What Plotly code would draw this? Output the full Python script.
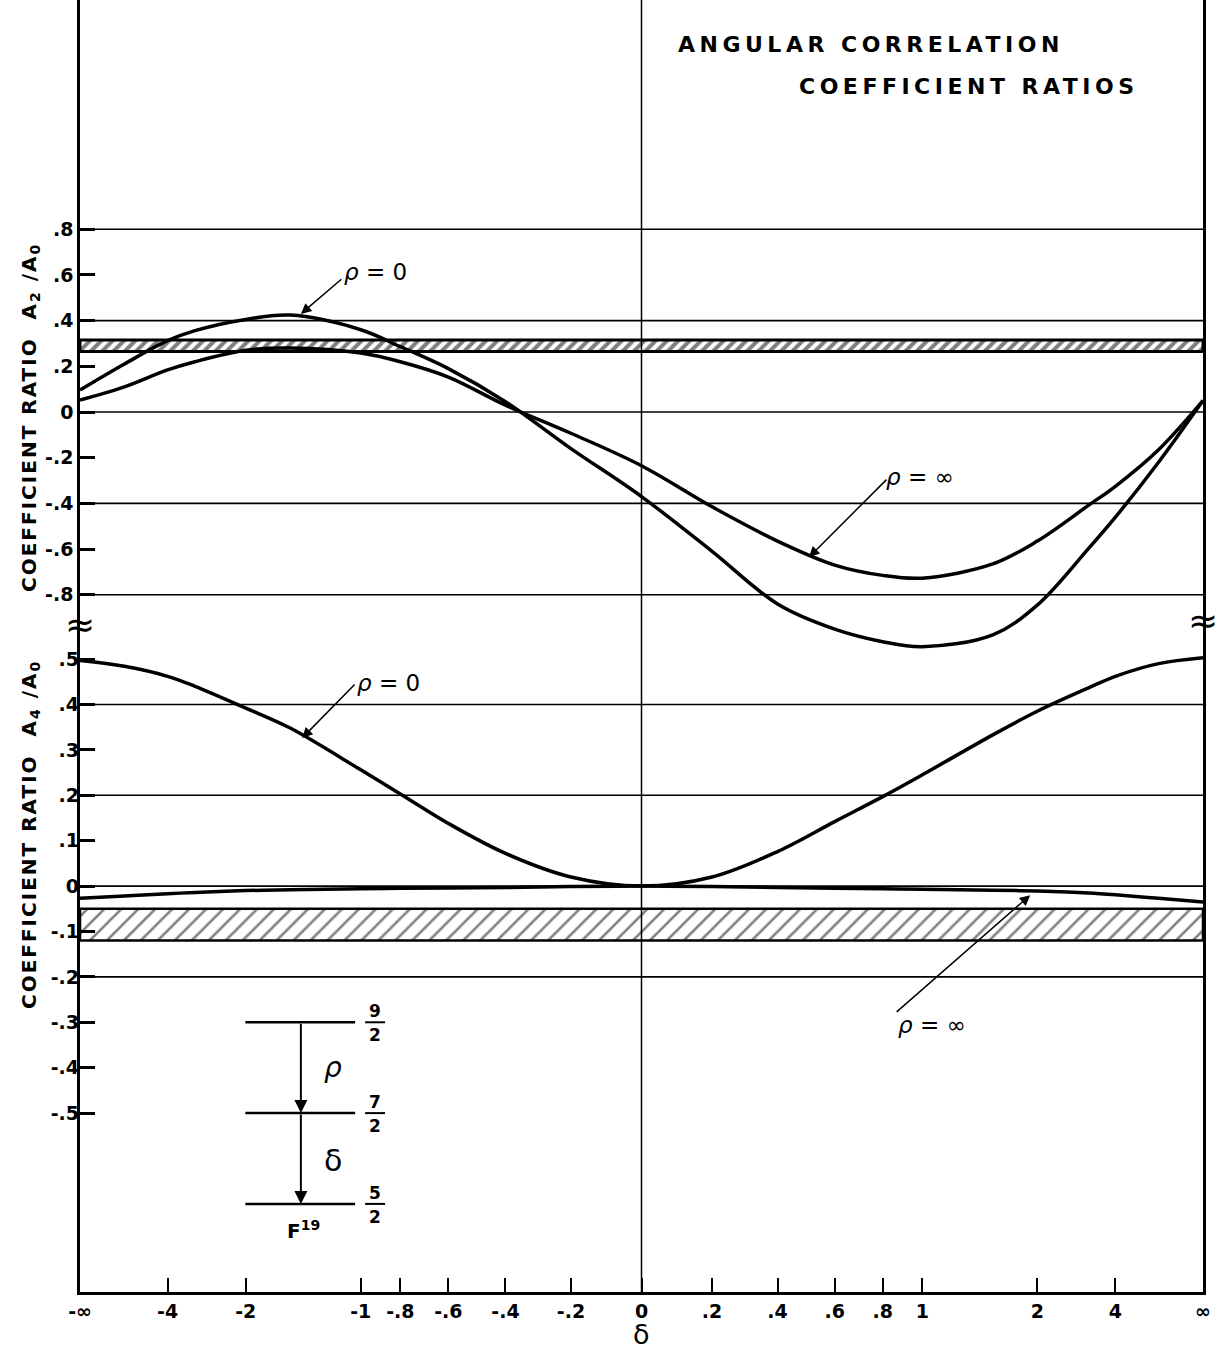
import numpy as np
import plotly.graph_objects as go

# Mixing ratio delta at the sampled points (x axis is arctan(delta))
delta = [-np.inf, -8, -4, -3, -2, -1.5, -1, -0.8, -0.6, -0.4, -0.2, 0,
         0.2, 0.4, 0.6, 0.8, 1, 1.5, 2, 3, 4, 8, np.inf]

# A2/A0 coefficient ratio
a2_rho0 = [0.096, 0.21, 0.312, 0.356, 0.405, 0.424, 0.36, 0.286, 0.19, 0.045, -0.16,
           -0.37, -0.61, -0.84, -0.95, -1.005, -1.027, -0.975, -0.845, -0.60,
           -0.46, -0.22, 0.05]
a2_rhoinf = [0.052, 0.11, 0.184, 0.22, 0.27, 0.28, 0.258, 0.22, 0.153, 0.03, -0.093,
             -0.235, -0.415, -0.565, -0.67, -0.715, -0.727, -0.665, -0.565, -0.41,
             -0.325, -0.165, 0.05]

# A4/A0 coefficient ratio
a4_rho0 = [0.497, 0.484, 0.462, 0.44, 0.392, 0.348, 0.256, 0.203, 0.138, 0.072, 0.02,
           0.0, 0.02, 0.076, 0.142, 0.197, 0.245, 0.333, 0.385, 0.436, 0.462, 0.49, 0.503]
a4_rhoinf = [-0.027, -0.022, -0.017, -0.014, -0.01, -0.008, -0.006, -0.005, -0.004,
             -0.003, -0.001, 0.0, -0.001, -0.003, -0.005, -0.006, -0.007, -0.009,
             -0.011, -0.015, -0.019, -0.027, -0.035]

# Measured bands
a2_band = [0.265, 0.315]
a4_band = [-0.12, -0.05]

# Axis ticks
x_tick_delta = [-np.inf, -4, -2, -1, -0.8, -0.6, -0.4, -0.2, 0, 0.2, 0.4, 0.6, 0.8, 1, 2, 4, np.inf]
x_tick_text = ["-∞", "-4", "-2", "-1", "-.8", "-.6", "-.4", "-.2", "0", ".2", ".4", ".6", ".8",
               "1", "2", "4", "∞"]
a2_ticks = [0.8, 0.6, 0.4, 0.2, 0, -0.2, -0.4, -0.6, -0.8]
a2_tick_text = [".8", ".6", ".4", ".2", "0", "-.2", "-.4", "-.6", "-.8"]
a4_ticks = [0.5, 0.4, 0.3, 0.2, 0.1, 0, -0.1, -0.2, -0.3, -0.4, -0.5]
a4_tick_text = [".5", ".4", ".3", ".2", ".1", "0", "-.1", "-.2", "-.3", "-.4", "-.5"]
a2_grid = [0.8, 0.4, 0, -0.4, -0.8]
a4_grid = [0.4, 0.2, 0, -0.2]


def theta(d):
    return np.degrees(np.arctan(np.asarray(d, dtype=float)))


def spaced(text, px):
    return f'<span style="letter-spacing:{px}px">{text}</span>'


FONT = "DejaVu Sans"
X = theta(delta)

fig = go.Figure()

# hatched bands
band_specs = [(a2_band, "y", 3, 8, 0.5), (a4_band, "y2", 2.5, 12, 0.22)]
for band, ax, lw, psize, solid in band_specs:
    lo, hi = band
    fig.add_trace(go.Scatter(
        x=[-90, 90, 90, -90, -90], y=[lo, lo, hi, hi, lo], yaxis=ax,
        mode="lines", fill="toself", fillcolor="white",
        fillpattern=dict(shape="/", fgcolor="black", bgcolor="white",
                         size=psize, solidity=solid),
        line=dict(color="black", width=lw), hoverinfo="skip"))

for ys, ax in [(a2_rho0, "y"), (a2_rhoinf, "y"), (a4_rho0, "y2"), (a4_rhoinf, "y2")]:
    fig.add_trace(go.Scatter(x=X, y=ys, yaxis=ax, mode="lines",
                             line=dict(color="black", width=3.5, shape="spline", smoothing=1.0),
                             hoverinfo="skip"))

shapes = []
for g in a2_grid:
    shapes.append(dict(type="line", xref="paper", x0=0, x1=1, yref="y", y0=g, y1=g,
                       line=dict(color="black", width=1.6)))
for g in a4_grid:
    shapes.append(dict(type="line", xref="paper", x0=0, x1=1, yref="y2", y0=g, y1=g,
                       line=dict(color="black", width=1.6)))
shapes.append(dict(type="line", xref="x", x0=0, x1=0, yref="paper", y0=0, y1=1,
                   line=dict(color="black", width=1.5)))

# level scheme of F19
lvl_x0, lvl_x1, lvl_arrow = -63.5, -45.9, -54.6
levels = [-0.3, -0.5, -0.7]
for lv in levels:
    shapes.append(dict(type="line", xref="x", x0=lvl_x0, x1=lvl_x1, yref="y2", y0=lv, y1=lv,
                       line=dict(color="black", width=2.5)))
    shapes.append(dict(type="line", xref="x", x0=-44.3, x1=-41.1, yref="y2", y0=lv, y1=lv,
                       line=dict(color="black", width=2)))

ann = []
for top, bot in [(levels[0], levels[1]), (levels[1], levels[2])]:
    ann.append(dict(xref="x", yref="y2", x=lvl_arrow, y=bot, axref="x", ayref="y2",
                    ax=lvl_arrow, ay=top, text="", showarrow=True, arrowhead=2,
                    arrowsize=1.3, arrowwidth=2, arrowcolor="black"))
for lv, (num, den) in zip(levels, [("9", "2"), ("7", "2"), ("5", "2")]):
    ann.append(dict(xref="x", yref="y2", x=-42.7, y=lv + 0.025, text=num, showarrow=False,
                    font=dict(family=FONT, size=17, weight="bold", color="black")))
    ann.append(dict(xref="x", yref="y2", x=-42.7, y=lv - 0.029, text=den, showarrow=False,
                    font=dict(family=FONT, size=17, weight="bold", color="black")))
ann.append(dict(xref="x", yref="y2", x=-49.4, y=-0.40, text="<i>ρ</i>", showarrow=False,
                font=dict(family=FONT, size=28, color="black")))
ann.append(dict(xref="x", yref="y2", x=-49.4, y=-0.605, text="δ", showarrow=False,
                font=dict(family=FONT, size=30, color="black")))
ann.append(dict(xref="x", yref="y2", x=-54.2, y=-0.758, text="F<sup>19</sup>", showarrow=False,
                font=dict(family=FONT, size=20, weight="bold", color="black")))

# curve labels with pointer arrows
labels = [
    ("y", -54.6, 0.429, 42, -36, -42.7, 0.613, "0"),
    ("y", 26.85, -0.635, 79, -79, 44.6, -0.284, "∞"),
    ("y2", -54.4, 0.326, 54, -55, -40.6, 0.447, "0"),
    ("y2", 62.3, -0.02, -135, 118, 46.6, -0.306, "∞"),
]
for yr, hx, hy, dx, dy, tx, ty, val in labels:
    ann.append(dict(xref="x", yref=yr, x=hx, y=hy, ax=dx, ay=dy, text="", showarrow=True,
                    arrowhead=2, arrowsize=1.4, arrowwidth=1.5, arrowcolor="black"))
    ann.append(dict(xref="x", yref=yr, x=tx, y=ty, text=f"<i>ρ</i> = {val}", showarrow=False,
                    font=dict(family=FONT, size=23, color="black")))

# titles
ann.append(dict(xref="paper", yref="paper", x=0.5307, y=0.9652, xanchor="left", yanchor="middle",
                text=spaced("ANGULAR CORRELATION", 4.5), showarrow=False,
                font=dict(family=FONT, size=22, weight="bold", color="black")))
ann.append(dict(xref="paper", yref="paper", x=0.6385, y=0.9327, xanchor="left", yanchor="middle",
                text=spaced("COEFFICIENT RATIOS", 4.5), showarrow=False,
                font=dict(family=FONT, size=22, weight="bold", color="black")))
ann.append(dict(xref="paper", yref="paper", x=-0.0445, y=0.6765, textangle=-90,
                xanchor="center", yanchor="middle",
                text=spaced("COEFFICIENT RATIO  A<sub>2</sub> /A<sub>0</sub>", 2),
                showarrow=False,
                font=dict(family=FONT, size=20, weight="bold", color="black")))
ann.append(dict(xref="paper", yref="paper", x=-0.0445, y=0.3537, textangle=-90,
                xanchor="center", yanchor="middle",
                text=spaced("COEFFICIENT RATIO  A<sub>4</sub> /A<sub>0</sub>", 2),
                showarrow=False,
                font=dict(family=FONT, size=20, weight="bold", color="black")))
ann.append(dict(xref="x", yref="paper", x=0, y=-0.033, yanchor="middle", text="δ",
                showarrow=False, font=dict(family=FONT, size=27, color="black")))
# axis break marks
for bx, by in [(0, 0.5163), (1, 0.5201)]:
    ann.append(dict(xref="paper", yref="paper", x=bx, y=by, xanchor="center", yanchor="middle",
                    text="≈", showarrow=False,
                    font=dict(family=FONT, size=36, color="black")))

tickfont = dict(family=FONT, size=19, weight="bold", color="black")
fig.update_layout(
    width=1224, height=1354, margin=dict(l=80, r=21, t=0, b=62),
    plot_bgcolor="white", paper_bgcolor="white", showlegend=False,
    shapes=shapes, annotations=ann,
    xaxis=dict(range=[-90, 90], tickvals=theta(x_tick_delta), ticktext=x_tick_text,
               ticks="inside", ticklen=14, tickwidth=2, tickcolor="black",
               showgrid=False, zeroline=False, showline=True, linewidth=2.5,
               linecolor="black", tickfont=tickfont),
    yaxis=dict(range=[-3.851, 1.803], tickvals=a2_ticks, ticktext=a2_tick_text,
               ticks="inside", ticklen=15, tickwidth=2.5, tickcolor="black",
               showgrid=False, zeroline=False, showline=True, mirror=True,
               linewidth=2.5, linecolor="black", tickfont=tickfont),
    yaxis2=dict(range=[-0.894, 1.9515], overlaying="y", side="left", anchor="x",
                tickvals=a4_ticks, ticktext=a4_tick_text,
                ticks="inside", ticklen=15, tickwidth=2.5, tickcolor="black",
                showgrid=False, zeroline=False, showline=False, tickfont=tickfont),
)

fig.write_html("out.html")
